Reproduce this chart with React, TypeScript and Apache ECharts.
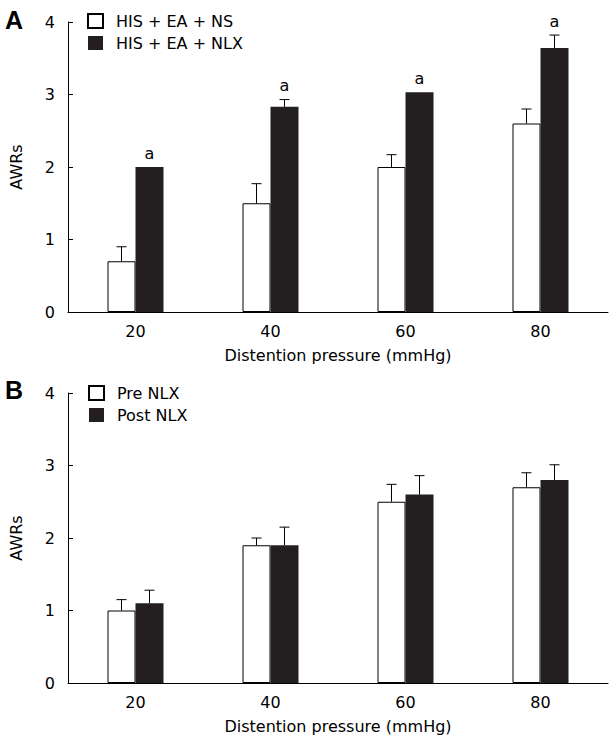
import React, { useEffect, useRef } from "react";
import * as echarts from "echarts";

const categories = ["20", "40", "60", "80"];
const yTicks = [0, 1, 2, 3, 4];

const seriesA1Name = "HIS + EA + NS";
const seriesA2Name = "HIS + EA + NLX";
const a1Values = [0.7, 1.5, 2.0, 2.6];
const a1Err = [0.2, 0.27, 0.17, 0.2];
const a2Values = [2.0, 2.83, 3.03, 3.64];
const a2Err = [0, 0.1, 0, 0.18];
const a2Sig = ["a", "a", "a", "a"];

const seriesB1Name = "Pre NLX";
const seriesB2Name = "Post NLX";
const b1Values = [1.0, 1.9, 2.5, 2.7];
const b1Err = [0.15, 0.1, 0.24, 0.2];
const b2Values = [1.1, 1.9, 2.6, 2.8];
const b2Err = [0.18, 0.25, 0.26, 0.21];

const FONT = "DejaVu Sans";
const BLACK = "#231f20";
const BAR_W = 28;

function errSeries(grid: number, values: number[], errs: number[], offset: number, sig?: string[]) {
  return {
    type: "custom",
    xAxisIndex: grid,
    yAxisIndex: grid,
    silent: true,
    z: 5,
    data: values.map((v, i) => [i, v, errs[i], sig ? sig[i] : ""]),
    renderItem: (params: any, api: any) => {
      const idx = api.value(0);
      const v = api.value(1);
      const e = api.value(2);
      const s = sig ? sig[params.dataIndex] : "";
      const base = api.coord([idx, v]);
      const top = api.coord([idx, v + e]);
      const x = base[0] + offset;
      const children: any[] = [];
      if (e > 0) {
        children.push({
          type: "line",
          shape: { x1: x, y1: base[1], x2: x, y2: top[1] },
          style: { stroke: "#000", lineWidth: 1 },
        });
        children.push({
          type: "line",
          shape: { x1: x - 5, y1: top[1], x2: x + 5, y2: top[1] },
          style: { stroke: "#000", lineWidth: 1 },
        });
      }
      if (s) {
        children.push({
          type: "text",
          x: x,
          y: top[1] - 14,
          style: {
            text: s,
            fontFamily: FONT,
            fontSize: 16,
            fill: "#000",
            align: "center",
            verticalAlign: "middle",
          },
        });
      }
      return { type: "group", children };
    },
  };
}

function xAxisDef(grid: number) {
  return {
    type: "category",
    gridIndex: grid,
    data: categories,
    boundaryGap: true,
    axisLine: { lineStyle: { color: "#000", width: 1 } },
    axisTick: { show: false },
    axisLabel: { color: "#000", fontFamily: FONT, fontSize: 16, margin: 11 },
    name: "Distention pressure (mmHg)",
    nameLocation: "middle",
    nameGap: 35,
    nameTextStyle: { color: "#000", fontFamily: FONT, fontSize: 16 },
  };
}

function yAxisDef(grid: number) {
  return {
    type: "value",
    gridIndex: grid,
    min: yTicks[0],
    max: yTicks[yTicks.length - 1],
    interval: 1,
    axisLine: { show: true, lineStyle: { color: "#000", width: 1 } },
    axisTick: { show: true, inside: true, length: 5, lineStyle: { color: "#000" } },
    splitLine: { show: false },
    axisLabel: { color: "#000", fontFamily: FONT, fontSize: 16, margin: 13 },
    name: "AWRs",
    nameLocation: "middle",
    nameGap: 44,
    nameTextStyle: { color: "#000", fontFamily: FONT, fontSize: 16 },
  };
}

function barSeries(name: string, grid: number, values: number[], white: boolean) {
  return {
    type: "bar",
    name,
    xAxisIndex: grid,
    yAxisIndex: grid,
    data: values,
    barWidth: BAR_W,
    barGap: "0%",
    itemStyle: white
      ? { color: "#fff", borderColor: "#000", borderWidth: 1 }
      : { color: BLACK, borderColor: BLACK, borderWidth: 0 },
  };
}

export default function App() {
  const ref = useRef<HTMLDivElement>(null);
  useEffect(() => {
    if (!ref.current) return;
    const chart = echarts.init(ref.current, null, { renderer: "svg" });
    const legendText = { color: "#000", fontFamily: FONT, fontSize: 16, padding: [0, 0, 0, 8] };
    chart.setOption({
      animation: false,
      backgroundColor: "#fff",
      grid: [
        { left: 65, right: 8, top: 22, height: 290 },
        { left: 65, right: 8, top: 393, height: 290 },
      ],
      xAxis: [xAxisDef(0), xAxisDef(1)],
      yAxis: [yAxisDef(0), yAxisDef(1)],
      legend: [
        {
          data: [seriesA1Name, seriesA2Name],
          orient: "vertical",
          left: 82,
          top: 8,
          icon: "rect",
          itemWidth: 15,
          itemHeight: 14,
          itemGap: 6,
          textStyle: legendText,
          selectedMode: false,
        },
        {
          data: [seriesB1Name, seriesB2Name],
          orient: "vertical",
          left: 83,
          top: 380,
          icon: "rect",
          itemWidth: 15,
          itemHeight: 14,
          itemGap: 6,
          textStyle: legendText,
          selectedMode: false,
        },
      ],
      graphic: [
        {
          type: "text",
          left: 5,
          top: 7,
          style: { text: "A", fontFamily: "Liberation Sans", fontWeight: "bold", fontSize: 25, fill: "#000" },
        },
        {
          type: "text",
          left: 5,
          top: 377,
          style: { text: "B", fontFamily: "Liberation Sans", fontWeight: "bold", fontSize: 25, fill: "#000" },
        },
      ],
      series: [
        barSeries(seriesA1Name, 0, a1Values, true),
        barSeries(seriesA2Name, 0, a2Values, false),
        errSeries(0, a1Values, a1Err, -BAR_W / 2),
        errSeries(0, a2Values, a2Err, BAR_W / 2, a2Sig),
        barSeries(seriesB1Name, 1, b1Values, true),
        barSeries(seriesB2Name, 1, b2Values, false),
        errSeries(1, b1Values, b1Err, -BAR_W / 2),
        errSeries(1, b2Values, b2Err, BAR_W / 2),
      ],
    });
    return () => chart.dispose();
  }, []);
  return (
    <div
      ref={ref}
      style={{ position: "fixed", left: 0, top: 0, width: 616, height: 745, background: "#fff" }}
    />
  );
}
